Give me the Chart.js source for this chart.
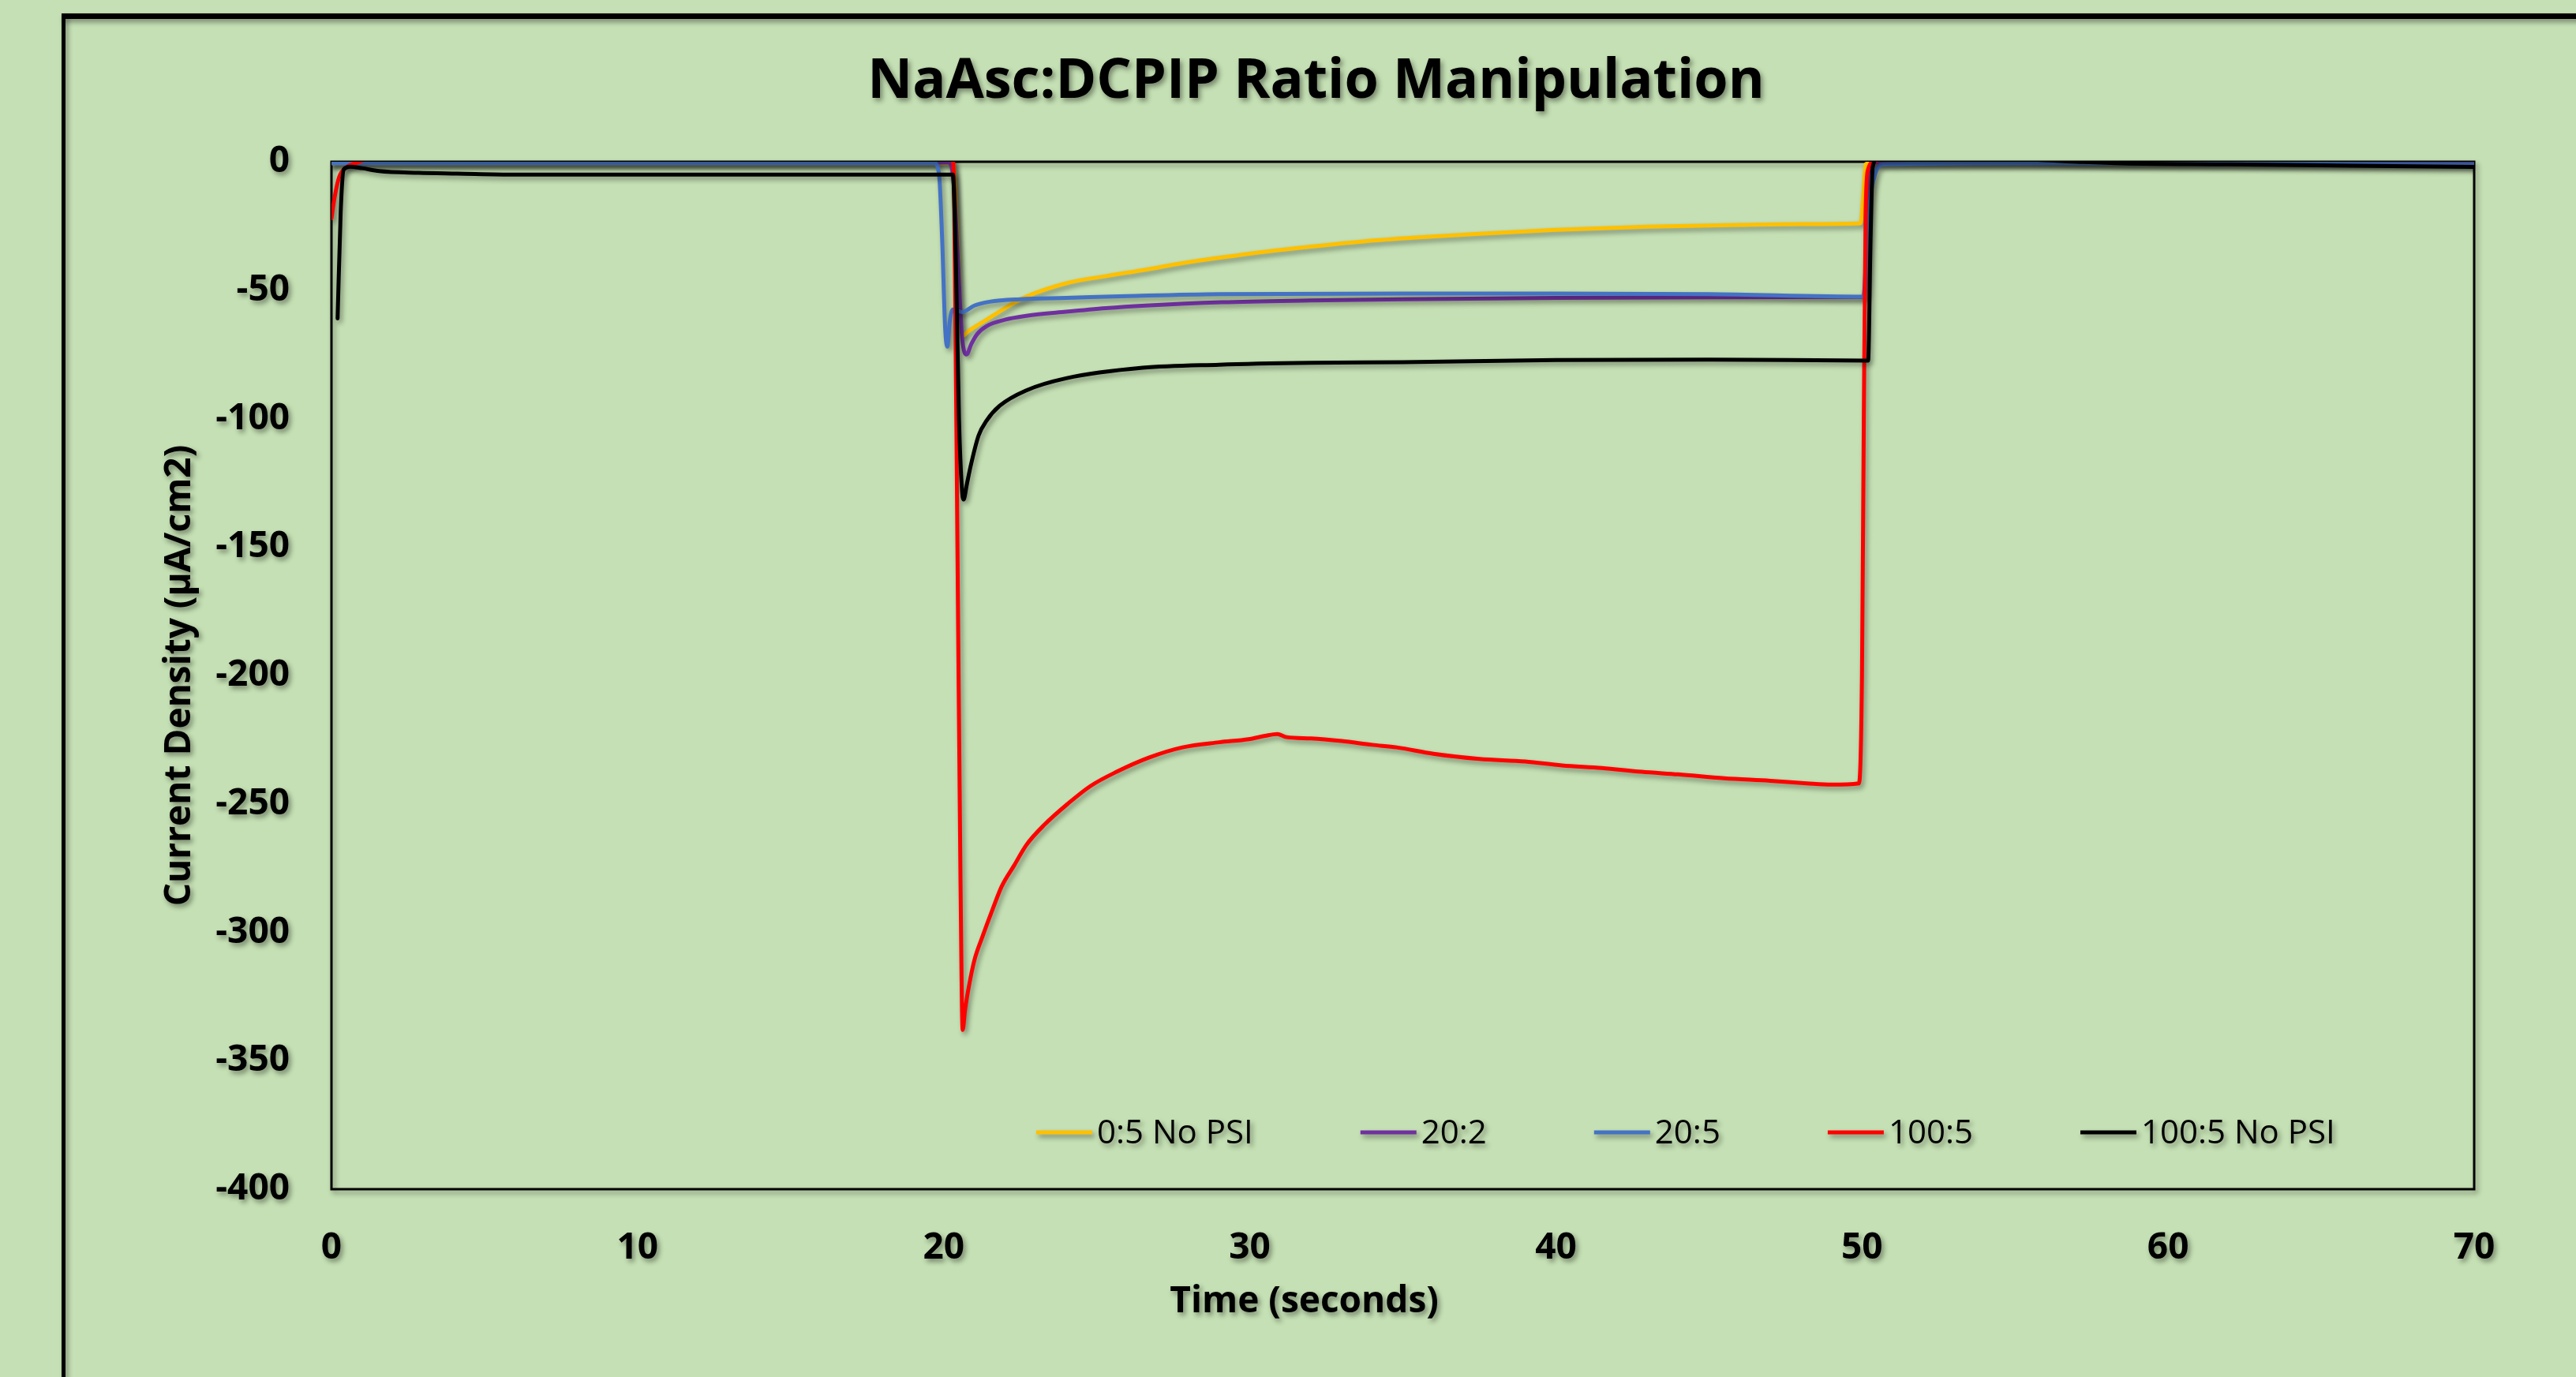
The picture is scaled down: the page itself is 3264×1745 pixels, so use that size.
<!DOCTYPE html>
<html>
<head>
<meta charset="utf-8">
<title>NaAsc:DCPIP Ratio Manipulation</title>
<script src="https://cdn.jsdelivr.net/npm/chart.js@4.4.1/dist/chart.umd.min.js"></script>
<style>
    html, body { margin: 0; padding: 0; background: #C5E0B4; overflow: hidden; }
    canvas { display: block; }
</style>
</head>
<body>
<canvas id="ratioChart" width="3264" height="1745"></canvas>
<script>
// series names, in the order Excel drew them (last one on top)
const seriesLabels = ['0:5 No PSI', '20:2', '20:5', '100:5', '100:5 No PSI'];
const seriesColors = ['#FFC000', '#7030A0', '#4472C4', '#FF0000', '#000000'];

// time (s) and current density (uA/cm2)
const yellowT = [0, 20.3, 20.45, 20.55, 20.6, 20.8, 21.4, 22, 22.7, 24, 25.3, 26.6, 27.8, 29.1, 30.5, 32, 33.7, 35.4, 37.5, 40, 43, 46, 48, 49.95, 50.05, 50.12, 50.3, 70];
const yellowV = [-0.5, -0.5, -30, -62, -68, -66, -61.5, -57, -52.5, -47.3, -44.5, -42, -39.5, -37.2, -35, -33, -31, -29.5, -28, -26.5, -25.3, -24.6, -24.3, -24, -12, -1, -0.3, -0.3];

const purpleT = [0, 20.15, 20.3, 20.45, 20.6, 20.75, 20.9, 21.1, 21.4, 22, 22.7, 24, 25.3, 26.6, 29.1, 32, 35, 40, 45, 50.05, 50.12, 50.2, 50.35, 70];
const purpleV = [-0.3, -0.3, -5, -35, -68, -75, -71, -67, -64, -61.5, -60, -58.4, -57, -56, -54.7, -54, -53.5, -53, -52.8, -52.6, -40, -5, -0.3, -0.3];

const blueT = [0, 19.7, 19.85, 19.95, 20.05, 20.12, 20.2, 20.3, 20.6, 21, 21.5, 22.5, 24, 26, 29, 35, 40, 45, 50.05, 50.15, 50.25, 50.4, 50.7, 55, 60, 65, 70];
const blueV = [-0.5, -0.5, -5, -30, -65, -72, -62, -57.5, -58.5, -56, -54.5, -53.5, -53, -52.3, -51.5, -51.3, -51.3, -51.5, -52.5, -45, -18, -6, -1, -0.5, -0.5, -0.8, -1];

const redT = [0, 0.1, 0.25, 0.5, 0.8, 1.2, 20.3, 20.35, 20.45, 20.55, 20.62, 20.7, 20.84, 21.0, 21.27, 21.6, 21.9, 22.3, 22.7, 23.3, 24.05, 24.8, 25.65, 26.7, 27.8, 29, 29.96, 30.5, 30.9, 31.2, 32, 33, 34, 34.8, 36, 37.5, 39, 40.2, 41.5, 42.8, 44, 45.5, 47, 48.2, 49, 49.9, 50.0, 50.06, 50.12, 50.2, 50.4, 50.6, 70];
const redV = [-22, -14, -6, -2, -0.5, 1, 1, -20, -150, -280, -338, -330, -320, -311, -301.6, -291, -282, -274, -266, -258, -250, -243, -237.5, -232, -228, -226, -224.8, -223.5, -222.8, -224, -224.5, -225.5, -227, -228, -230.5, -232.5, -233.5, -235, -236, -237.5, -238.5, -240, -241, -242, -242.5, -242, -200, -100, -20, -3, 0, 1, 1];

const blackT = [0.2, 0.3, 0.4, 0.6, 1.0, 1.55, 2.84, 4.1, 6, 10, 15, 20.3, 20.4, 20.5, 20.6, 20.65, 20.75, 20.88, 21.14, 21.4, 21.83, 22.7, 24, 26.5, 29, 32, 35, 40, 45, 50.2, 50.28, 50.35, 50.5, 55, 57, 58.5, 62, 66, 70];
const blackV = [-61, -20, -3, -1.9, -2.5, -3.6, -4.3, -4.6, -5, -5, -5, -5, -40, -100, -128, -131.5, -126, -118.5, -106.6, -100.8, -95, -89, -84.3, -80.2, -79, -78.3, -78, -77.2, -77, -77.4, -30, -2, 1, 1, 0, -0.6, -1, -1.5, -2];

// axis ticks
const xTicks = [0, 10, 20, 30, 40, 50, 60, 70];
const yTicks = [0, -50, -100, -150, -200, -250, -300, -350, -400];

const FONT = "'Open Sans', 'DejaVu Sans', sans-serif";

function toPoints(ts, vs) {
    return ts.map((t, i) => ({ x: t, y: vs[i] }));
}

const seriesData = [
    toPoints(yellowT, yellowV),
    toPoints(purpleT, purpleV),
    toPoints(blueT, blueV),
    toPoints(redT, redV),
    toPoints(blackT, blackV)
];

// background, outer frame, plot border, legend, x title, drop shadows
const framePlugin = {
    id: 'frame',
    beforeDraw(chart) {
        const ctx = chart.ctx;
        ctx.save();
        ctx.fillStyle = '#C5E0B4';
        ctx.fillRect(0, 0, chart.width, chart.height);
        ctx.restore();

        // shadow for everything drawn after this
        ctx.shadowColor = 'rgba(0, 0, 0, 0.4)';
        ctx.shadowBlur = 6;
        ctx.shadowOffsetX = 3;
        ctx.shadowOffsetY = 4;

        ctx.fillStyle = '#000';
        ctx.fillRect(78, 17, chart.width, 7);
        ctx.fillRect(78, 17, 5, chart.height);
    },
    beforeDatasetsDraw(chart) {
        const { ctx, chartArea } = chart;
        ctx.save();
        ctx.strokeStyle = '#000';
        ctx.lineWidth = 3;
        ctx.strokeRect(chartArea.left, chartArea.top, chartArea.right - chartArea.left, chartArea.bottom - chartArea.top);
        ctx.restore();
    },
    afterDatasetsDraw(chart) {
        const { ctx, chartArea } = chart;
        const w = chartArea.right - chartArea.left;

        // legend inside the plot, near the bottom
        ctx.save();
        ctx.font = 'normal 42px ' + FONT;
        ctx.textBaseline = 'middle';
        ctx.textAlign = 'left';
        const lineLen = 71, gapText = 6, gapItem = 136;
        const items = chart.data.datasets.map(ds => ({
            label: ds.label,
            color: ds.borderColor,
            width: lineLen + gapText + ctx.measureText(ds.label).width
        }));
        const total = items.reduce((s, it) => s + it.width, 0) + gapItem * (items.length - 1);
        let x = chartArea.left + 0.632 * w - total / 2;
        const y = chartArea.bottom - 72;
        items.forEach(it => {
            ctx.strokeStyle = it.color;
            ctx.lineWidth = 5;
            ctx.lineCap = 'butt';
            ctx.beginPath();
            ctx.moveTo(x, y);
            ctx.lineTo(x + lineLen, y);
            ctx.stroke();
            ctx.fillStyle = '#000';
            ctx.fillText(it.label, x + lineLen + gapText, y + 2);
            x += it.width + gapItem;
        });
        ctx.restore();

        // x axis title (sits left of the plot centre in the original)
        ctx.save();
        ctx.font = 'bold 46px ' + FONT;
        ctx.fillStyle = '#000';
        ctx.textAlign = 'center';
        ctx.textBaseline = 'alphabetic';
        ctx.fillText('Time (seconds)', chartArea.left + 0.454 * w, chartArea.bottom + 156);
        ctx.restore();
    },
    afterDraw(chart) {
        const ctx = chart.ctx;
        ctx.shadowColor = 'rgba(0, 0, 0, 0)';
        ctx.shadowBlur = 0;
        ctx.shadowOffsetX = 0;
        ctx.shadowOffsetY = 0;
    }
};

document.addEventListener('DOMContentLoaded', () => {
    Chart.defaults.font.family = FONT;
    Chart.defaults.color = '#000';

    const ctx = document.getElementById('ratioChart').getContext('2d');

    new Chart(ctx, {
        type: 'line',
        data: {
            datasets: seriesLabels.map((label, i) => ({
                label: label,
                data: seriesData[i],
                borderColor: seriesColors[i],
                backgroundColor: seriesColors[i],
                borderWidth: 5,
                pointRadius: 0,
                fill: false,
                clip: 0,
                cubicInterpolationMode: 'monotone',
                borderJoinStyle: 'round',
                borderCapStyle: 'round',
                order: seriesLabels.length - i
            }))
        },
        options: {
            responsive: false,
            animation: false,
            devicePixelRatio: 1,
            layout: { padding: { left: 200, right: 129, top: 20, bottom: 0 } },
            plugins: {
                legend: { display: false },
                tooltip: { enabled: false },
                title: {
                    display: true,
                    text: 'NaAsc:DCPIP Ratio Manipulation',
                    color: '#000',
                    font: { family: FONT, size: 70, weight: 'bold' },
                    padding: { top: 42, bottom: 59 }
                }
            },
            scales: {
                x: {
                    type: 'linear',
                    min: 0,
                    max: 70,
                    afterBuildTicks: s => { s.ticks = xTicks.map(v => ({ value: v })); },
                    afterFit: s => { s.height = 238; },
                    grid: { display: false, drawTicks: false },
                    border: { display: false },
                    ticks: {
                        padding: 47,
                        color: '#000',
                        font: { family: FONT, size: 46, weight: 'bold' }
                    }
                },
                y: {
                    type: 'linear',
                    min: -400,
                    max: 0,
                    afterBuildTicks: s => { s.ticks = yTicks.map(v => ({ value: v })); },
                    afterFit: s => { s.width = 220; },
                    grid: { display: false, drawTicks: false },
                    border: { display: false },
                    ticks: {
                        padding: 53,
                        color: '#000',
                        font: { family: FONT, size: 46, weight: 'bold' }
                    },
                    title: {
                        display: true,
                        text: 'Current Density (µA/cm2)',
                        color: '#000',
                        padding: 0,
                        font: { family: FONT, size: 46, weight: 'bold' }
                    }
                }
            }
        },
        plugins: [framePlugin]
    });
});
</script>
</body>
</html>
